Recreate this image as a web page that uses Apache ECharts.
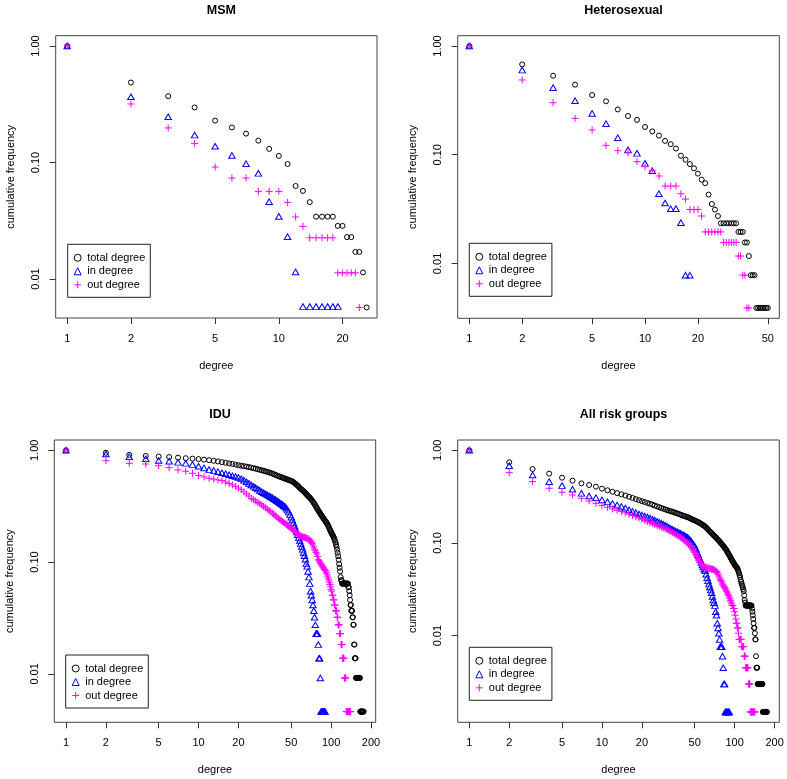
<!DOCTYPE html>
<html><head><meta charset="utf-8">
<script src="https://cdn.jsdelivr.net/npm/echarts@6/dist/echarts.min.js"></script>
<style>html,body{margin:0;padding:0;background:#fff}#c{width:787px;height:779px}</style>
</head><body><div id="c"></div><script>
// ---- tick labels ----
const xTicksMSM = [1, 2, 5, 10, 20];
const xTicksHetero = [1, 2, 5, 10, 20, 50];
const xTicksBig = [1, 2, 5, 10, 20, 50, 100, 200];
const yTicks = [0.01, 0.1, 1];
const panelTitles = ['MSM', 'Heterosexual', 'IDU', 'All risk groups'];
const seriesNames = ['total degree', 'in degree', 'out degree'];

// ---- cumulative frequency at degree 1, 2, 3, ... ----
const msmTotal = [1, 0.486, 0.371, 0.297, 0.229, 0.2, 0.177, 0.154, 0.131, 0.114, 0.0971, 0.0629, 0.0571, 0.0457, 0.0343, 0.0343, 0.0343, 0.0343, 0.0286, 0.0286, 0.0229, 0.0229, 0.0171, 0.0171, 0.0114, 0.0057];
const msmIn = [1, 0.367, 0.247, 0.172, 0.138, 0.115, 0.0977, 0.0808, 0.0461, 0.0345, 0.0231, 0.0115, 0.0058, 0.0058, 0.0058, 0.0058, 0.0058, 0.0058, 0.0058];
const msmOut = [1, 0.318, 0.198, 0.146, 0.0915, 0.0736, 0.0736, 0.0565, 0.0565, 0.0565, 0.0455, 0.0341, 0.0283, 0.0226, 0.0226, 0.0226, 0.0226, 0.0226, 0.0113, 0.0113, 0.0113, 0.0113, 0.0113, 0.0057];

const heteroTotal = [1, 0.678, 0.533, 0.441, 0.354, 0.31, 0.261, 0.227, 0.209, 0.18, 0.164, 0.15, 0.134, 0.125, 0.114, 0.098, 0.09, 0.082, 0.075, 0.067, 0.059, 0.0547, 0.043, 0.0352, 0.0313, 0.0273, 0.0234, 0.0234, 0.0234, 0.0234, 0.0234, 0.0234, 0.0234, 0.0195, 0.0195, 0.0195, 0.0156, 0.0156, 0.0117, 0.0078, 0.0078, 0.0078, 0.0039, 0.0039, 0.0039, 0.0039, 0.0039, 0.0039, 0.0039, 0.0039];
const heteroIn = [1, 0.601, 0.414, 0.314, 0.24, 0.193, 0.1436, 0.111, 0.103, 0.0833, 0.0713, 0.0438, 0.036, 0.0319, 0.0319, 0.0237, 0.0078, 0.0078];
const heteroOut = [1, 0.487, 0.301, 0.216, 0.169, 0.122, 0.109, 0.104, 0.0863, 0.0776, 0.0713, 0.0637, 0.0515, 0.0515, 0.0515, 0.0438, 0.0391, 0.0313, 0.0313, 0.0313, 0.0273, 0.0195, 0.0195, 0.0195, 0.0195, 0.0195, 0.0195, 0.0156, 0.0156, 0.0156, 0.0156, 0.0156, 0.0156, 0.0117, 0.0117, 0.0078, 0.0078, 0.0039, 0.0039];

const iduTotal = [1.0, 0.95, 0.91, 0.89, 0.88, 0.87, 0.86, 0.85, 0.842, 0.835,
 0.825, 0.815, 0.805, 0.795, 0.783, 0.773, 0.763, 0.755, 0.745, 0.735,
 0.728, 0.721, 0.714, 0.707, 0.70, 0.692, 0.685, 0.677, 0.669, 0.662,
 0.655, 0.648, 0.641, 0.634, 0.627, 0.619, 0.611, 0.603, 0.595, 0.587,
 0.581, 0.575, 0.569, 0.563, 0.557, 0.552, 0.547, 0.542, 0.537, 0.532,
 0.527, 0.518, 0.509, 0.5, 0.491, 0.482, 0.472, 0.46, 0.452, 0.445,
 0.438, 0.43, 0.422, 0.414, 0.406, 0.398, 0.39, 0.384, 0.377, 0.37,
 0.362, 0.354, 0.346, 0.338, 0.33, 0.322, 0.314, 0.305, 0.297, 0.29,
 0.283, 0.277, 0.27, 0.265, 0.26, 0.254, 0.249, 0.244, 0.239, 0.235,
 0.231, 0.226, 0.222, 0.217, 0.212, 0.206, 0.2, 0.194, 0.19, 0.185,
 0.181, 0.177, 0.173, 0.169, 0.165, 0.16, 0.155, 0.149, 0.143, 0.137,
 0.129, 0.121, 0.113, 0.105, 0.096, 0.089, 0.0826, 0.0734, 0.0688, 0.0688,
 0.0642, 0.0642, 0.0642, 0.0642, 0.0642, 0.0642, 0.0642, 0.0642, 0.0642, 0.0642,
 0.0642, 0.0642, 0.0642, 0.0642, 0.0596, 0.0596, 0.055, 0.0505, 0.0459, 0.0413,
 0.0413, 0.0367, 0.0367, 0.0367, 0.0321, 0.0321, 0.0275, 0.0275, 0.0183, 0.0183,
 0.0138, 0.0138, 0.0138, 0.0092, 0.0092, 0.0092, 0.0092, 0.0092, 0.0092, 0.0092,
 0.0092, 0.0092, 0.0092, 0.0092, 0.0092, 0.0046, 0.0046, 0.0046, 0.0046, 0.0046,
 0.0046, 0.0046, 0.0046, 0.0046, 0.0046, 0.0046];
const iduIn = [1.0, 0.927, 0.877, 0.84, 0.81, 0.80, 0.78, 0.765, 0.745, 0.72,
 0.695, 0.672, 0.658, 0.644, 0.63, 0.617, 0.604, 0.592, 0.582, 0.572,
 0.556, 0.54, 0.523, 0.506, 0.49, 0.476, 0.463, 0.45, 0.438, 0.426,
 0.417, 0.408, 0.4, 0.392, 0.385, 0.377, 0.369, 0.362, 0.354, 0.347,
 0.34, 0.333, 0.326, 0.32, 0.313, 0.303, 0.292, 0.28, 0.266, 0.252,
 0.238, 0.224, 0.21, 0.197, 0.186, 0.176, 0.166, 0.156, 0.147, 0.138,
 0.13, 0.122, 0.114, 0.106, 0.097, 0.0917, 0.0826, 0.0734, 0.0642, 0.055,
 0.0505, 0.0459, 0.0413, 0.0367, 0.0321, 0.0275, 0.0229, 0.0229, 0.0229, 0.0183,
 0.0138, 0.0138, 0.0092, 0.0046, 0.0046, 0.0046, 0.0046, 0.0046, 0.0046, 0.0046];
const iduOut = [1.0, 0.807, 0.765, 0.754, 0.728, 0.70, 0.667, 0.65, 0.623, 0.595,
 0.578, 0.562, 0.552, 0.543, 0.535, 0.52, 0.505, 0.49, 0.475, 0.46,
 0.443, 0.425, 0.408, 0.39, 0.372, 0.362, 0.352, 0.342, 0.333, 0.324,
 0.315, 0.306, 0.298, 0.29, 0.282, 0.274, 0.267, 0.26, 0.253, 0.246,
 0.241, 0.236, 0.231, 0.226, 0.222, 0.217, 0.213, 0.209, 0.204, 0.20,
 0.197, 0.193, 0.19, 0.186, 0.181, 0.178, 0.176, 0.173, 0.171, 0.169,
 0.168, 0.167, 0.166, 0.165, 0.164, 0.163, 0.162, 0.16, 0.157, 0.154,
 0.151, 0.147, 0.142, 0.136, 0.13, 0.126, 0.122, 0.118, 0.112, 0.106,
 0.103, 0.1, 0.098, 0.096, 0.094, 0.092, 0.09, 0.088, 0.086, 0.084,
 0.084, 0.081, 0.078, 0.075, 0.072, 0.069, 0.066, 0.063, 0.06, 0.057,
 0.055, 0.0505, 0.0505, 0.0459, 0.0459, 0.0413, 0.0413, 0.0367, 0.0367, 0.0367,
 0.0321, 0.0321, 0.0275, 0.0275, 0.0275, 0.0229, 0.0229, 0.0229, 0.0183, 0.0183,
 0.0183, 0.0138, 0.0138, 0.0138, 0.0138, 0.0092, 0.0092, 0.0092, 0.0092, 0.0046,
 0.0046, 0.0046, 0.0046, 0.0046, 0.0046, 0.0046, 0.0046, 0.0046, 0.0046, 0.0046];

const allTotal = [1.0, 0.742, 0.628, 0.56, 0.506, 0.47, 0.44, 0.422, 0.405, 0.385,
 0.37, 0.357, 0.345, 0.335, 0.325, 0.315, 0.306, 0.297, 0.289, 0.282,
 0.276, 0.27, 0.265, 0.259, 0.253, 0.248, 0.243, 0.238, 0.234, 0.23,
 0.226, 0.223, 0.22, 0.217, 0.214, 0.211, 0.208, 0.205, 0.202, 0.199,
 0.197, 0.195, 0.192, 0.19, 0.188, 0.185, 0.182, 0.179, 0.177, 0.175,
 0.173, 0.17, 0.168, 0.165, 0.163, 0.161, 0.158, 0.155, 0.153, 0.15,
 0.147, 0.143, 0.14, 0.136, 0.133, 0.13, 0.128, 0.125, 0.122, 0.12,
 0.117, 0.115, 0.113, 0.11, 0.108, 0.106, 0.104, 0.101, 0.099, 0.097,
 0.095, 0.093, 0.091, 0.089, 0.087, 0.085, 0.083, 0.08, 0.078, 0.076,
 0.074, 0.072, 0.07, 0.068, 0.066, 0.064, 0.063, 0.061, 0.06, 0.058,
 0.057, 0.056, 0.055, 0.054, 0.053, 0.051, 0.049, 0.047, 0.045, 0.043,
 0.04, 0.038, 0.0362, 0.0347, 0.0332, 0.0317, 0.0302, 0.0272, 0.0242, 0.0227,
 0.0211, 0.0211, 0.0211, 0.0211, 0.0211, 0.0211, 0.0211, 0.0211, 0.0211, 0.0211,
 0.0211, 0.0211, 0.0211, 0.0211, 0.0196, 0.0181, 0.0166, 0.0151, 0.0136, 0.0121,
 0.0121, 0.0106, 0.0091, 0.0091, 0.006, 0.0045, 0.0045, 0.0045, 0.003, 0.003,
 0.003, 0.003, 0.003, 0.003, 0.003, 0.003, 0.003, 0.003, 0.003, 0.003,
 0.003, 0.003, 0.0015, 0.0015, 0.0015, 0.0015, 0.0015, 0.0015, 0.0015, 0.0015,
 0.0015, 0.0015, 0.0015, 0.0015, 0.0015];
const allIn = [1.0, 0.683, 0.542, 0.459, 0.416, 0.38, 0.343, 0.321, 0.308, 0.291,
 0.278, 0.266, 0.256, 0.247, 0.238, 0.228, 0.219, 0.212, 0.205, 0.2,
 0.195, 0.19, 0.186, 0.18, 0.176, 0.171, 0.167, 0.163, 0.159, 0.155,
 0.151, 0.147, 0.143, 0.14, 0.137, 0.134, 0.132, 0.129, 0.127, 0.124,
 0.122, 0.12, 0.117, 0.115, 0.112, 0.108, 0.104, 0.1, 0.096, 0.092,
 0.086, 0.08, 0.075, 0.07, 0.066, 0.062, 0.058, 0.055, 0.052, 0.05,
 0.046, 0.042, 0.039, 0.036, 0.0335, 0.031, 0.029, 0.0265, 0.0242, 0.0227,
 0.0211, 0.0181, 0.0166, 0.0136, 0.0121, 0.0106, 0.0091, 0.0076, 0.0076, 0.0076,
 0.006, 0.0045, 0.003, 0.003, 0.0015, 0.0015, 0.0015, 0.0015, 0.0015, 0.0015, 0.0015];
const allOut = [1.0, 0.573, 0.459, 0.389, 0.352, 0.33, 0.303, 0.284, 0.268, 0.253,
 0.243, 0.233, 0.225, 0.218, 0.211, 0.204, 0.198, 0.192, 0.186, 0.18,
 0.175, 0.17, 0.166, 0.162, 0.158, 0.154, 0.151, 0.148, 0.145, 0.142,
 0.139, 0.136, 0.133, 0.13, 0.127, 0.124, 0.121, 0.118, 0.115, 0.112,
 0.109, 0.106, 0.103, 0.1, 0.097, 0.094, 0.09, 0.086, 0.082, 0.079,
 0.075, 0.071, 0.068, 0.065, 0.062, 0.059, 0.057, 0.056, 0.055, 0.055,
 0.054, 0.054, 0.054, 0.053, 0.053, 0.053, 0.052, 0.052, 0.052, 0.051,
 0.051, 0.05, 0.049, 0.048, 0.046, 0.044, 0.042, 0.04, 0.039, 0.038,
 0.036, 0.035, 0.034, 0.033, 0.032, 0.031, 0.03, 0.029, 0.028, 0.027,
 0.026, 0.025, 0.024, 0.023, 0.022, 0.0211, 0.0211, 0.0196, 0.0196, 0.0181,
 0.0166, 0.0151, 0.0136, 0.0136, 0.0121, 0.0121, 0.0106, 0.0091, 0.0091, 0.0091,
 0.0091, 0.0091, 0.0076, 0.0076, 0.0076, 0.0076, 0.0076, 0.006, 0.006, 0.006,
 0.0045, 0.0045, 0.0045, 0.0045, 0.0045, 0.0045, 0.003, 0.003, 0.003, 0.003,
 0.0015, 0.0015, 0.0015, 0.0015, 0.0015, 0.0015, 0.0015, 0.0015, 0.0015, 0.0015, 0.0015, 0.0015];

// ---- layout ----
const FONT = 'Liberation Sans, Arial, Helvetica, sans-serif';
const grids = [
  {left: 55.7, top: 35.7, width: 321.3, height: 282.3},
  {left: 457.7, top: 35.7, width: 321.6, height: 282.6},
  {left: 54.3, top: 440, width: 321.4, height: 282.3},
  {left: 457.7, top: 440, width: 321.6, height: 282.3}
];
const xRanges = [[0.882, 29.1], [0.859, 58.1], [0.816, 217], [0.818, 217]];
const yRanges = [[0.00463, 1.226], [0.00313, 1.244], [0.00369, 1.236], [0.00116, 1.291]];
const xTickSets = [xTicksMSM, xTicksHetero, xTicksBig, xTicksBig];
const legendPos = [[67.7, 244.3], [469.3, 243.3], [65.7, 655], [469.3, 647.3]];
const panelData = [
  [msmTotal, msmIn, msmOut],
  [heteroTotal, heteroIn, heteroOut],
  [iduTotal, iduIn, iduOut],
  [allTotal, allIn, allOut]
];

const symbolDefs = [
  {symbol: 'circle', size: 5, color: '#000000'},
  {symbol: 'triangle', size: [6.5, 5.6], color: '#0000ff'},
  {symbol: 'path://M0,5L10,5M5,0L5,10', size: 7, color: '#ff00ff'}
];

const option = {
  animation: false,
  backgroundColor: '#ffffff',
  textStyle: {fontFamily: FONT},
  title: [], grid: [], xAxis: [], yAxis: [], legend: [], series: []
};

grids.forEach((g, i) => {
  option.grid.push(Object.assign({show: true, borderColor: '#444', borderWidth: 1, backgroundColor: 'transparent', containLabel: false}, g));
  option.title.push({
    text: panelTitles[i], left: g.left + g.width / 2, top: g.top - 36.5, textAlign: 'center',
    textStyle: {fontSize: 12.5, fontWeight: 'bold', color: '#000', fontFamily: FONT}
  });
  option.xAxis.push({
    type: 'log', logBase: 10, gridIndex: i, min: xRanges[i][0], max: xRanges[i][1],
    axisLine: {show: false},
    axisTick: {show: true, inside: false, length: 6, customValues: xTickSets[i], lineStyle: {color: '#333', width: 1}},
    axisLabel: {customValues: xTickSets[i], fontSize: 11, color: '#000', margin: 15, fontFamily: FONT,
      formatter: v => String(Math.round(v))},
    splitLine: {show: false},
    name: 'degree', nameLocation: 'middle', nameGap: 42,
    nameTextStyle: {fontSize: 11, color: '#000', fontFamily: FONT}
  });
  option.yAxis.push({
    type: 'log', logBase: 10, gridIndex: i, min: yRanges[i][0], max: yRanges[i][1],
    axisLine: {show: false},
    axisTick: {show: true, inside: false, length: 6, customValues: yTicks, lineStyle: {color: '#333', width: 1}},
    axisLabel: {customValues: yTicks, fontSize: 11, color: '#000', margin: 14, rotate: 90, fontFamily: FONT,
      formatter: v => Number(v).toFixed(2)},
    splitLine: {show: false},
    name: 'cumulative frequency', nameLocation: 'middle', nameGap: 39, nameRotate: 90,
    nameTextStyle: {fontSize: 11, color: '#000', fontFamily: FONT}
  });
  option.legend.push({
    orient: 'vertical', left: legendPos[i][0], top: legendPos[i][1],
    data: seriesNames, selectedMode: false,
    itemWidth: 7, itemHeight: 7, itemGap: 2.5,
    padding: [8, 5, 7, 6],
    borderColor: '#222', borderWidth: 1, borderRadius: 0,
    itemStyle: {borderWidth: 1, color: 'rgba(0,0,0,0)'},
    textStyle: {fontSize: 11, color: '#000', lineHeight: 11, fontFamily: FONT, padding: [0, 0, 0, 1]}
  });
  panelData[i].forEach((arr, s) => {
    const d = symbolDefs[s];
    option.series.push({
      type: 'scatter', name: seriesNames[s], xAxisIndex: i, yAxisIndex: i,
      symbol: d.symbol, symbolSize: d.size,
      itemStyle: {color: 'rgba(0,0,0,0)', borderColor: d.color, borderWidth: 1, opacity: 1},
      emphasis: {disabled: true},
      data: arr.map((f, k) => [k + 1, f])
    });
  });
});

const chart = echarts.init(document.getElementById('c'), null, {renderer: 'canvas'});
chart.setOption(option);
</script></body></html>
